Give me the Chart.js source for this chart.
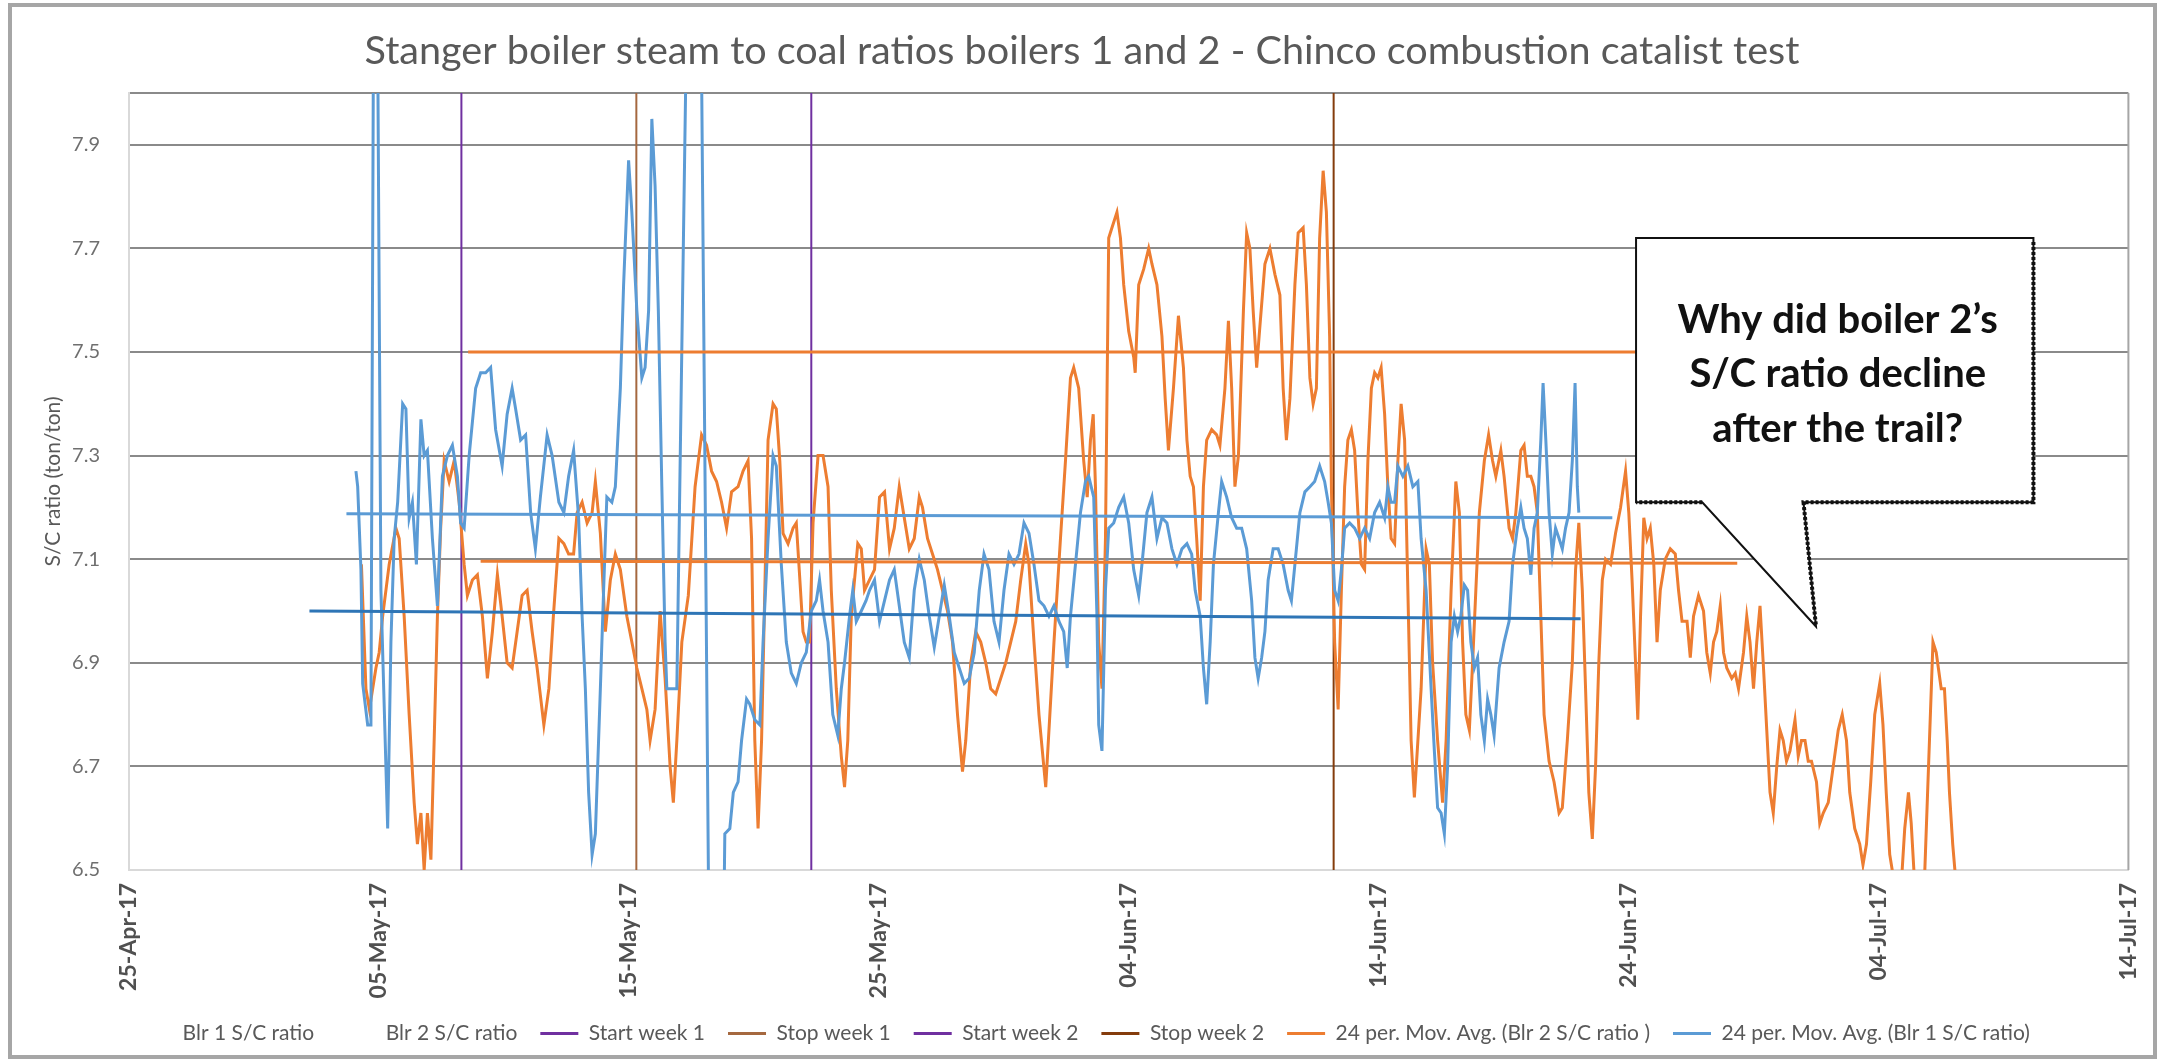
<!DOCTYPE html>
<html>
<head>
<meta charset="utf-8">
<title>Stanger boiler steam to coal ratios</title>
<script src="https://cdn.jsdelivr.net/npm/chart.js@4.4.1/dist/chart.umd.min.js"></script>
<style>
  html, body { margin: 0; padding: 0; background: #fff; }
  #wrap { position: relative; width: 2169px; height: 1064px; }
</style>
</head>
<body>
<div id="wrap"><canvas id="chart"></canvas></div>
<script>
// x values are days counted from 25-Apr-17 00:00
const xTicks = [0, 10, 20, 30, 40, 50, 60, 70, 80];
const yTicks = [6.5, 6.7, 6.9, 7.1, 7.3, 7.5, 7.7, 7.9, 8.0];

const eventNames = ['Start week 1', 'Stop week 1', 'Start week 2', 'Stop week 2'];
const eventDays = [13.3, 20.3, 27.3, 48.2];

const blr1MovAvg = [
  [9.08,7.27],[9.15,7.24],[9.28,7.08],[9.35,6.86],[9.55,6.78],[9.68,6.78],[9.78,8.1],[9.95,8.1],[10.08,7.04],[10.35,6.58],
  [10.48,6.94],[10.61,7.14],[10.75,7.21],[10.95,7.40],[11.08,7.39],[11.21,7.18],[11.34,7.21],[11.50,7.09],[11.68,7.37],[11.81,7.30],
  [11.94,7.31],[12.14,7.14],[12.34,7.01],[12.54,7.26],[12.74,7.30],[12.94,7.32],[13.14,7.26],[13.27,7.17],[13.41,7.16],[13.61,7.30],
  [13.87,7.43],[14.07,7.46],[14.27,7.46],[14.47,7.47],[14.67,7.35],[14.93,7.28],[15.13,7.38],[15.33,7.43],[15.47,7.39],[15.67,7.33],
  [15.87,7.34],[16.07,7.19],[16.26,7.12],[16.46,7.22],[16.73,7.34],[16.93,7.30],[17.20,7.21],[17.40,7.19],[17.59,7.26],[17.79,7.31],
  [17.99,7.18],[18.13,6.99],[18.26,6.85],[18.39,6.65],[18.53,6.53],[18.66,6.57],[18.86,6.85],[18.99,7.04],[19.12,7.22],[19.32,7.21],
  [19.46,7.24],[19.66,7.43],[19.79,7.63],[19.99,7.87],[20.12,7.77],[20.32,7.58],[20.52,7.45],[20.65,7.47],[20.79,7.58],[20.92,7.95],
  [21.05,7.82],[21.18,7.58],[21.32,7.24],[21.45,6.94],[21.52,6.85],[21.92,6.85],[22.30,8.1],[22.90,8.1],[23.20,6.4],[23.80,6.4],
  [23.84,6.57],[24.04,6.58],[24.18,6.65],[24.37,6.67],[24.51,6.75],[24.71,6.83],[24.84,6.82],[25.04,6.79],[25.24,6.78],[25.37,6.94],
  [25.57,7.14],[25.77,7.30],[25.90,7.28],[26.10,7.09],[26.30,6.94],[26.50,6.88],[26.70,6.86],[26.90,6.90],[27.10,6.92],[27.30,7.00],
  [27.50,7.02],[27.63,7.06],[27.77,7.00],[27.97,6.94],[28.16,6.80],[28.36,6.76],[28.50,6.85],[28.63,6.90],[28.83,6.99],[28.96,7.04],
  [29.10,6.98],[29.30,7.00],[29.49,7.02],[29.63,7.04],[29.83,7.06],[30.03,6.98],[30.23,7.02],[30.43,7.06],[30.62,7.08],[30.82,7.01],
  [31.02,6.94],[31.22,6.91],[31.42,7.04],[31.62,7.10],[31.82,7.06],[32.02,6.99],[32.22,6.93],[32.42,6.99],[32.62,7.05],[32.82,6.99],
  [33.02,6.92],[33.22,6.89],[33.42,6.86],[33.62,6.87],[33.82,6.92],[34.02,7.04],[34.21,7.11],[34.41,7.08],[34.61,6.98],[34.81,6.94],
  [35.01,7.04],[35.21,7.11],[35.41,7.09],[35.61,7.11],[35.81,7.17],[36.01,7.15],[36.21,7.09],[36.41,7.02],[36.61,7.01],[36.81,6.99],
  [37.01,7.01],[37.21,6.98],[37.40,6.96],[37.54,6.89],[37.67,6.99],[37.87,7.09],[38.07,7.19],[38.27,7.25],[38.40,7.26],[38.60,7.22],
  [38.73,6.99],[38.80,6.78],[38.93,6.73],[39.07,7.04],[39.20,7.16],[39.40,7.17],[39.60,7.20],[39.80,7.22],[40.00,7.17],[40.20,7.08],
  [40.40,7.03],[40.53,7.09],[40.73,7.19],[40.93,7.22],[41.13,7.14],[41.33,7.18],[41.53,7.17],[41.73,7.12],[41.93,7.09],[42.13,7.12],
  [42.33,7.13],[42.52,7.11],[42.66,7.04],[42.86,6.99],[42.99,6.89],[43.12,6.82],[43.26,6.94],[43.39,7.09],[43.59,7.19],[43.72,7.25],
  [43.92,7.22],[44.12,7.18],[44.32,7.16],[44.52,7.16],[44.72,7.12],[44.92,7.02],[45.05,6.91],[45.18,6.87],[45.32,6.91],[45.45,6.96],
  [45.58,7.06],[45.78,7.12],[45.98,7.12],[46.18,7.09],[46.38,7.04],[46.51,7.02],[46.65,7.09],[46.85,7.19],[47.05,7.23],[47.25,7.24],
  [47.44,7.25],[47.64,7.28],[47.84,7.25],[47.98,7.21],[48.11,7.17],[48.24,7.04],[48.38,7.02],[48.51,7.08],[48.64,7.16],[48.84,7.17],
  [49.04,7.16],[49.24,7.14],[49.44,7.16],[49.64,7.14],[49.84,7.19],[50.04,7.21],[50.24,7.18],[50.37,7.24],[50.50,7.21],[50.64,7.21],
  [50.77,7.28],[50.97,7.26],[51.17,7.28],[51.37,7.24],[51.57,7.25],[51.70,7.14],[51.90,7.04],[52.10,6.85],[52.23,6.73],[52.36,6.62],
  [52.50,6.61],[52.63,6.57],[52.76,6.70],[52.90,6.94],[53.03,6.99],[53.16,6.96],[53.29,6.99],[53.43,7.05],[53.56,7.04],[53.69,6.94],
  [53.83,6.89],[53.96,6.91],[54.09,6.80],[54.23,6.75],[54.36,6.83],[54.49,6.80],[54.62,6.76],[54.82,6.89],[55.02,6.94],[55.22,6.98],
  [55.36,7.09],[55.55,7.16],[55.69,7.20],[55.82,7.16],[55.95,7.14],[56.09,7.07],[56.22,7.16],[56.35,7.19],[56.49,7.33],[56.58,7.44],
  [56.69,7.33],[56.82,7.19],[56.95,7.11],[57.08,7.16],[57.22,7.14],[57.35,7.12],[57.48,7.16],[57.62,7.19],[57.75,7.29],[57.86,7.44],
  [57.95,7.24],[58.01,7.19]
];

const blr2MovAvg = [
  [9.30,7.09],[9.48,6.85],[9.62,6.81],[9.88,6.89],[10.01,6.92],[10.15,6.99],[10.41,7.09],[10.68,7.16],[10.81,7.14],[11.01,6.99],
  [11.21,6.80],[11.41,6.63],[11.54,6.55],[11.68,6.61],[11.81,6.50],[11.94,6.61],[12.08,6.52],[12.21,6.75],[12.34,6.99],[12.47,7.16],
  [12.61,7.29],[12.81,7.25],[13.01,7.29],[13.21,7.21],[13.41,7.09],[13.54,7.03],[13.74,7.06],[13.94,7.07],[14.14,6.99],[14.34,6.87],
  [14.54,6.96],[14.74,7.07],[14.93,6.99],[15.13,6.90],[15.33,6.89],[15.53,6.96],[15.73,7.03],[15.93,7.04],[16.13,6.96],[16.33,6.89],
  [16.60,6.78],[16.80,6.85],[16.98,6.99],[17.20,7.14],[17.40,7.13],[17.59,7.11],[17.79,7.11],[17.93,7.19],[18.13,7.21],[18.33,7.17],
  [18.53,7.19],[18.66,7.25],[18.86,7.15],[19.06,6.96],[19.26,7.06],[19.46,7.11],[19.66,7.08],[19.92,6.99],[20.12,6.94],[20.32,6.89],
  [20.52,6.85],[20.72,6.81],[20.85,6.75],[21.05,6.81],[21.25,7.00],[21.45,6.87],[21.65,6.70],[21.78,6.63],[21.92,6.75],[22.12,6.94],
  [22.38,7.03],[22.65,7.24],[22.91,7.34],[23.11,7.32],[23.31,7.27],[23.51,7.25],[23.71,7.21],[23.91,7.16],[24.11,7.23],[24.37,7.24],
  [24.57,7.27],[24.77,7.29],[24.91,7.14],[25.04,6.75],[25.17,6.58],[25.31,6.75],[25.44,7.04],[25.57,7.33],[25.77,7.40],[25.90,7.39],
  [26.04,7.29],[26.17,7.15],[26.37,7.13],[26.57,7.16],[26.70,7.17],[26.83,7.07],[26.97,6.96],[27.10,6.94],[27.23,6.94],[27.37,7.17],
  [27.57,7.30],[27.77,7.30],[27.97,7.24],[28.10,7.04],[28.30,6.85],[28.50,6.72],[28.63,6.66],[28.76,6.75],[28.90,6.99],[29.03,7.06],
  [29.16,7.13],[29.30,7.12],[29.43,7.04],[29.63,7.06],[29.83,7.08],[30.03,7.22],[30.23,7.23],[30.43,7.12],[30.62,7.16],[30.82,7.24],
  [31.02,7.18],[31.22,7.12],[31.42,7.14],[31.62,7.22],[31.75,7.20],[31.95,7.14],[32.15,7.11],[32.35,7.08],[32.55,7.04],[32.75,7.00],
  [32.95,6.94],[33.15,6.80],[33.35,6.69],[33.48,6.75],[33.68,6.90],[33.88,6.96],[34.08,6.94],[34.28,6.90],[34.48,6.85],[34.68,6.84],
  [34.88,6.87],[35.08,6.90],[35.28,6.94],[35.48,6.98],[35.68,7.06],[35.88,7.13],[36.01,7.09],[36.21,6.94],[36.41,6.80],[36.68,6.66],
  [37.01,6.94],[37.27,7.14],[37.47,7.29],[37.67,7.45],[37.80,7.47],[38.00,7.43],[38.20,7.29],[38.34,7.22],[38.47,7.33],[38.58,7.38],
  [38.67,7.24],[38.80,6.94],[38.93,6.85],[39.07,7.14],[39.20,7.72],[39.33,7.74],[39.53,7.77],[39.67,7.72],[39.80,7.63],[40.00,7.54],
  [40.20,7.49],[40.26,7.46],[40.40,7.63],[40.60,7.66],[40.80,7.70],[40.93,7.67],[41.13,7.63],[41.33,7.53],[41.46,7.41],[41.59,7.31],
  [41.79,7.43],[41.99,7.57],[42.19,7.47],[42.33,7.33],[42.46,7.26],[42.59,7.24],[42.72,7.14],[42.86,7.02],[42.99,7.24],[43.12,7.33],
  [43.32,7.35],[43.52,7.34],[43.65,7.32],[43.85,7.43],[43.99,7.56],[44.12,7.43],[44.25,7.24],[44.39,7.30],[44.59,7.58],[44.72,7.73],
  [44.85,7.70],[44.98,7.58],[45.12,7.47],[45.25,7.55],[45.45,7.67],[45.65,7.70],[45.85,7.65],[46.05,7.61],[46.18,7.43],[46.31,7.33],
  [46.45,7.41],[46.65,7.63],[46.78,7.73],[46.98,7.74],[47.11,7.63],[47.25,7.45],[47.38,7.40],[47.51,7.43],[47.64,7.72],[47.78,7.85],
  [47.91,7.77],[48.04,7.53],[48.11,7.24],[48.24,6.94],[48.38,6.81],[48.51,7.04],[48.64,7.24],[48.77,7.33],[48.91,7.35],[49.04,7.31],
  [49.17,7.19],[49.31,7.09],[49.44,7.08],[49.57,7.29],[49.71,7.43],[49.84,7.46],[49.97,7.45],[50.10,7.47],[50.24,7.38],[50.37,7.24],
  [50.50,7.14],[50.64,7.13],[50.77,7.29],[50.90,7.40],[51.04,7.33],[51.17,7.04],[51.30,6.75],[51.43,6.64],[51.70,6.85],[51.90,7.12],
  [52.03,7.09],[52.16,6.90],[52.36,6.75],[52.56,6.63],[52.70,6.75],[52.90,7.04],[53.09,7.25],[53.23,7.19],[53.36,6.94],[53.49,6.80],
  [53.63,6.77],[53.76,6.90],[53.89,7.04],[54.03,7.19],[54.23,7.29],[54.40,7.34],[54.56,7.29],[54.69,7.26],[54.89,7.31],[55.02,7.26],
  [55.22,7.16],[55.36,7.14],[55.49,7.19],[55.69,7.31],[55.82,7.32],[55.95,7.26],[56.09,7.26],[56.22,7.24],[56.35,7.19],[56.49,6.99],
  [56.62,6.80],[56.82,6.71],[57.02,6.67],[57.22,6.61],[57.35,6.62],[57.55,6.75],[57.75,6.90],[57.88,7.08],[58.01,7.17],[58.15,7.04],
  [58.28,6.85],[58.41,6.65],[58.55,6.56],[58.68,6.70],[58.81,6.90],[58.95,7.06],[59.08,7.10],[59.28,7.09],[59.48,7.15],[59.68,7.20],
  [59.88,7.27],[60.01,7.19],[60.14,7.06],[60.28,6.90],[60.37,6.79],[60.48,6.99],[60.61,7.18],[60.74,7.14],[60.87,7.16],[61.01,7.09],
  [61.14,6.94],[61.27,7.04],[61.47,7.10],[61.67,7.12],[61.87,7.11],[62.00,7.04],[62.14,6.98],[62.34,6.98],[62.47,6.91],[62.60,6.99],
  [62.80,7.03],[63.00,7.00],[63.13,6.92],[63.27,6.88],[63.40,6.94],[63.53,6.96],[63.67,7.01],[63.80,6.92],[63.93,6.89],[64.13,6.87],
  [64.27,6.88],[64.40,6.85],[64.60,6.92],[64.73,6.99],[64.86,6.94],[65.00,6.85],[65.13,6.94],[65.26,7.01],[65.40,6.89],[65.53,6.77],
  [65.66,6.65],[65.79,6.61],[65.93,6.70],[66.06,6.77],[66.19,6.75],[66.32,6.71],[66.46,6.73],[66.66,6.79],[66.79,6.72],[66.92,6.75],
  [67.06,6.75],[67.19,6.71],[67.32,6.71],[67.52,6.67],[67.65,6.59],[67.79,6.61],[67.99,6.63],[68.19,6.70],[68.39,6.77],[68.55,6.80],
  [68.72,6.75],[68.85,6.65],[69.05,6.58],[69.25,6.55],[69.38,6.51],[69.52,6.55],[69.69,6.67],[69.85,6.80],[70.05,6.86],[70.18,6.78],
  [70.31,6.65],[70.45,6.53],[70.65,6.47],[70.91,6.47],[71.05,6.58],[71.20,6.65],[71.31,6.59],[71.44,6.48],[71.84,6.48],[72.04,6.75],
  [72.18,6.94],[72.31,6.92],[72.51,6.85],[72.64,6.85],[72.75,6.75],[72.84,6.65],[72.97,6.55],[73.11,6.47]
];

// flat level lines drawn over the test period (not in the legend)
const blr1LevelLow = [[7.22, 7.0], [58.08, 6.985]];
const blr1LevelHigh = [[8.7, 7.188], [59.35, 7.18]];
const blr2LevelHigh = [[13.57, 7.5], [62.0, 7.5]];
const blr2LevelLow = [[14.07, 7.096], [64.35, 7.092]];

const calloutLines = ['Why did boiler 2\u2019s', 'S/C ratio decline', 'after the trail?'];

const MONTHS = ['Jan', 'Feb', 'Mar', 'Apr', 'May', 'Jun', 'Jul', 'Aug', 'Sep', 'Oct', 'Nov', 'Dec'];
function dayLabel(d) {
    const t = new Date(Date.UTC(2017, 3, 25) + d * 86400000);
    return String(t.getUTCDate()).padStart(2, '0') + '-' + MONTHS[t.getUTCMonth()] + '-' + String(t.getUTCFullYear()).slice(2);
}
const toPoints = (rows) => rows.map(([x, y]) => ({ x, y }));
const yMin = yTicks[0];
const yMax = yTicks[yTicks.length - 1];

const ORANGE = '#ed7d31';
const BLUE = '#5b9bd5';
const NONE = 'rgba(0,0,0,0)';
const eventColors = ['#7030a0', '#a5683f', '#7030a0', '#843c0c'];

const lineDefaults = { pointRadius: 0, tension: 0, fill: false };

const datasets = [
    { label: 'Blr 1 S/C ratio', data: [], borderColor: NONE, backgroundColor: NONE, order: 9 },
    { label: 'Blr 2 S/C ratio', data: [], borderColor: NONE, backgroundColor: NONE, order: 9 },
    ...eventNames.map((name, i) => ({
        ...lineDefaults,
        label: name,
        data: [{ x: eventDays[i], y: yMin }, { x: eventDays[i], y: yMax }],
        borderColor: eventColors[i],
        backgroundColor: eventColors[i],
        borderWidth: 2,
        order: 4,
    })),
    { ...lineDefaults, label: '24 per. Mov. Avg. (Blr 2 S/C ratio )', data: toPoints(blr2MovAvg), borderColor: ORANGE, backgroundColor: ORANGE, borderWidth: 3, order: 3 },
    { ...lineDefaults, label: '24 per. Mov. Avg. (Blr 1 S/C ratio)', data: toPoints(blr1MovAvg), borderColor: BLUE, backgroundColor: BLUE, borderWidth: 3, order: 2 },
    { ...lineDefaults, label: 'level', legend: false, data: toPoints(blr2LevelHigh), borderColor: ORANGE, borderWidth: 3, order: 1 },
    { ...lineDefaults, label: 'level', legend: false, data: toPoints(blr2LevelLow), borderColor: ORANGE, borderWidth: 3, order: 1 },
    { ...lineDefaults, label: 'level', legend: false, data: toPoints(blr1LevelHigh), borderColor: BLUE, borderWidth: 3, order: 0 },
    { ...lineDefaults, label: 'level', legend: false, data: toPoints(blr1LevelLow), borderColor: '#2e75b6', borderWidth: 3, order: 0 },
];

// speech bubble, placed in data units
const callout = { left: 60.3, right: 76.2, top: 7.72, bottom: 7.21, tailLeft: 62.95, tailRight: 67.0, tipX: 67.5, tipY: 6.97 };

const decorations = {
    id: 'decorations',
    afterDraw(chart) {
        const { ctx, chartArea: a, scales: { x, y } } = chart;
        ctx.save();
        // right edge of the plot area
        ctx.strokeStyle = '#a6a6a6';
        ctx.lineWidth = 2;
        ctx.beginPath();
        ctx.moveTo(a.right, a.top);
        ctx.lineTo(a.right, a.bottom);
        ctx.stroke();

        // outer chart border
        ctx.lineWidth = 4;
        ctx.strokeRect(10, 5, chart.width - 24, chart.height - 12);

        // callout
        const l = x.getPixelForValue(callout.left);
        const r = x.getPixelForValue(callout.right);
        const t = y.getPixelForValue(callout.top);
        const b = y.getPixelForValue(callout.bottom);
        const tl = x.getPixelForValue(callout.tailLeft);
        const tr = x.getPixelForValue(callout.tailRight);
        const px = x.getPixelForValue(callout.tipX);
        const py = y.getPixelForValue(callout.tipY);
        ctx.beginPath();
        ctx.moveTo(l, t);
        ctx.lineTo(r, t);
        ctx.lineTo(r, b);
        ctx.lineTo(tr, b);
        ctx.lineTo(px, py);
        ctx.lineTo(tl, b);
        ctx.lineTo(l, b);
        ctx.closePath();
        ctx.fillStyle = '#fff';
        ctx.fill();
        ctx.strokeStyle = '#111';
        ctx.lineWidth = 2;
        ctx.stroke();
        // rough dotted shadow edge on the right and bottom
        ctx.setLineDash([3, 2]);
        ctx.lineWidth = 4;
        ctx.beginPath();
        ctx.moveTo(r, t + 4);
        ctx.lineTo(r, b);
        ctx.lineTo(tr, b);
        ctx.lineTo(px, py);
        ctx.moveTo(tl, b);
        ctx.lineTo(l, b);
        ctx.stroke();
        ctx.setLineDash([]);

        ctx.fillStyle = '#111';
        ctx.font = 'bold 40px Lato, "Open Sans", sans-serif';
        ctx.textAlign = 'center';
        ctx.textBaseline = 'middle';
        const cx = (l + r) / 2 + 3;
        calloutLines.forEach((line, i) => ctx.fillText(line, cx, t + 82 + i * 54.5));
        ctx.restore();
    },
};

Chart.defaults.font.family = 'Lato, "Open Sans", sans-serif';

new Chart(document.getElementById('chart'), {
    type: 'line',
    data: { datasets },
    plugins: [decorations],
    options: {
        responsive: true,
        maintainAspectRatio: false,
        animation: false,
        layout: { padding: { left: 34, right: 39, top: 8, bottom: 10 } },
        plugins: {
            title: {
                display: true,
                text: 'Stanger boiler steam to coal ratios boilers 1 and 2 - Chinco combustion catalist test',
                color: '#595959',
                font: { size: 39.6, weight: 'normal' },
                padding: { top: 19, bottom: 18.5 },
            },
            legend: {
                position: 'bottom',
                labels: {
                    color: '#595959',
                    font: { size: 21 },
                    boxWidth: 38,
                    boxHeight: 3,
                    padding: 23,
                    filter: (item, data) => data.datasets[item.datasetIndex].legend !== false,
                    sort: (a, b) => a.datasetIndex - b.datasetIndex,
                    generateLabels(chart) {
                        const items = Chart.defaults.plugins.legend.labels.generateLabels(chart);
                        items.forEach((it) => { it.lineWidth = 0; });
                        return items;
                    },
                },
            },
            tooltip: { enabled: false },
        },
        scales: {
            x: {
                type: 'linear',
                min: xTicks[0],
                max: xTicks[xTicks.length - 1],
                afterBuildTicks: (s) => { s.ticks = xTicks.map((v) => ({ value: v })); },
                afterFit: (s) => { s.height = 130; },
                grid: { display: false, drawTicks: false },
                border: { display: true, color: '#d9d9d9', width: 2 },
                ticks: {
                    autoSkip: false,
                    minRotation: 90,
                    maxRotation: 90,
                    padding: 13,
                    color: '#505050',
                    font: { size: 23, weight: 'bold' },
                    callback: (v) => dayLabel(v),
                },
            },
            y: {
                type: 'linear',
                min: yMin,
                max: yMax,
                afterBuildTicks: (s) => { s.ticks = yTicks.map((v) => ({ value: v })); },
                afterFit: (s) => { s.width = 95; },
                grid: {
                    drawTicks: false,
                    lineWidth: 2,
                    color: (c) => (c.tick && c.tick.value === yMin ? NONE : '#8a8a8a'),
                },
                border: { display: true, color: '#d9d9d9', width: 2 },
                ticks: {
                    padding: 29,
                    color: '#6f6f6f',
                    font: { size: 20 },
                    callback: (v) => (v === yMax ? '' : v.toFixed(1)),
                },
                title: {
                    display: true,
                    text: 'S/C ratio (ton/ton)',
                    color: '#595959',
                    font: { size: 21 },
                    padding: { top: 6.5, bottom: 0 },
                },
            },
        },
    },
});
</script>
</body>
</html>
